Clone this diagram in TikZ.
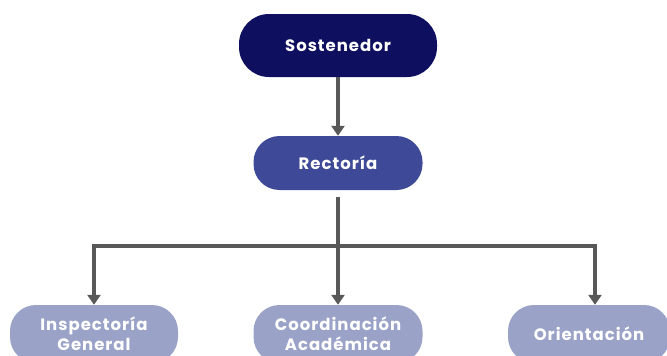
\documentclass[tikz,border=0pt]{standalone}
\usepackage{fontspec}
\setmainfont{Poppins}[LetterSpace=6]
\usepackage{xcolor}
\usepackage{tikz}
\usetikzlibrary{positioning,shapes,arrows.meta}

\definecolor{navy}{HTML}{0F0F5F}
\definecolor{midblue}{HTML}{3E4A97}
\definecolor{lilac}{HTML}{9AA2C8}
\definecolor{arrowgray}{HTML}{585858}

\begin{document}
\begin{tikzpicture}
            [x=1pt,y=-1pt,
             every node/.style={text=white, font=\fontsize{16.5}{20}\selectfont\bfseries, align=center, inner sep=0pt},
             box/.style={rectangle, rounded corners=26pt, minimum height=54pt},
             arr/.style={draw=arrowgray, line width=3.5pt, -{Triangle[width=13pt,length=10pt]}}]
            \clip (0,0) rectangle (667,356);
            \fill[white] (0,0) rectangle (667,356);
            \node[box, fill=navy, minimum width=198pt, minimum height=63pt, rounded corners=30pt] (sost) at (338,45.5) {Sostenedor};
            \node[box, fill=midblue, minimum width=169pt] (rect) at (338,163) {Rectoría};
            \node[box, fill=lilac, minimum width=168pt, minimum height=58pt] (insp) at (94,334) {Inspectoría\\General};
            \node[box, fill=lilac, minimum width=169pt, minimum height=58pt] (coord) at (338,334) {Coordinación\\Académica};
            \node[box, fill=lilac, minimum width=162pt, minimum height=58pt] (orie) at (589,334) {Orientación};
            \coordinate (bar) at (338,246);

            \draw[arr] (sost) -- (rect);
            \draw[draw=arrowgray, line width=3.5pt, shorten <=7pt] (rect.south) -- (bar);
            \foreach \to/\dx in {insp/0, coord/0, orie/6}
            \draw[arr] (bar) -| ([xshift=\dx pt]\to.north);
          \end{tikzpicture}
\end{document}
